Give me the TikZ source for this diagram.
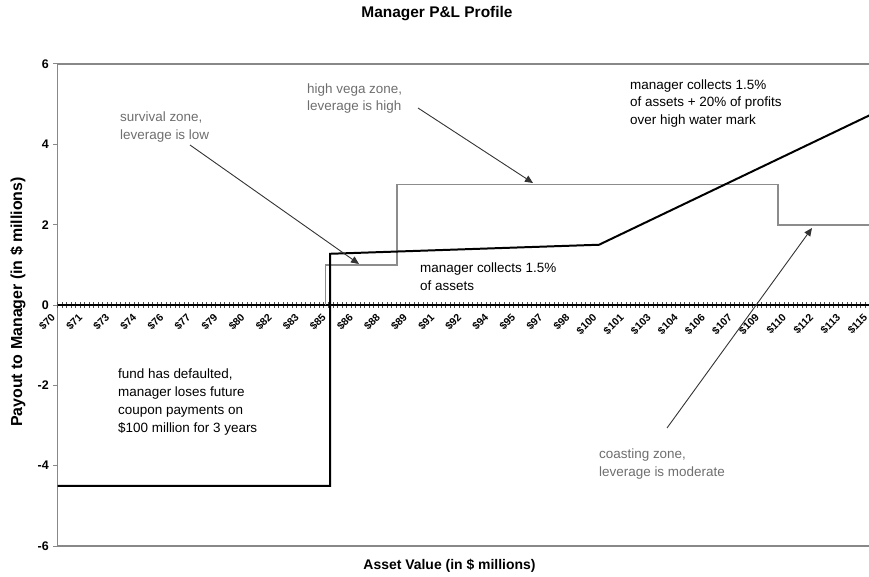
\documentclass[tikz,border=0pt]{standalone}
\usepackage{fontspec}
\setmainfont{Liberation Sans}
\usetikzlibrary{arrows.meta,positioning}

\definecolor{zonegray}{HTML}{6E6E6E}
\definecolor{linegray}{HTML}{8C8C8C}
\definecolor{framegray}{HTML}{888888}

\tikzset{
  note/.style={align=left, inner sep=0pt, anchor=west, font=\fontsize{13.5}{18}\selectfont},
  zonenote/.style={note, text=zonegray},
  pointer/.style={draw=black!80, line width=0.9pt, -{Triangle[length=8bp,width=7bp]}},
  frame/.style={draw=framegray, line width=1.3pt},
  xlab/.style={rotate=45, anchor=east, inner sep=0pt, font=\bfseries\fontsize{10.5}{12}\selectfont},
  ylab/.style={anchor=east, inner sep=0pt, font=\bfseries\fontsize{12.5}{14}\selectfont},
  axistitle/.style={font=\bfseries\fontsize{14}{16}\selectfont, inner sep=0pt},
}

\begin{document}
\begin{tikzpicture}[x=1bp, y=-1bp]
  \useasboundingbox (0,0) rectangle (869,577);

  % plot frame and value axis
  \draw[frame] (869,64) -- (57.5,64) -- (57.5,546) -- (869,546);
  \foreach \v in {6,4,...,-6} {
    \draw[frame, line width=1pt] (53,{305-40.17*\v}) -- (57.5,{305-40.17*\v});
    \node[ylab] (y\v) at (49,{305-40.17*\v}) {\v};
  }

  % category axis at zero
  \foreach \i in {0,...,180}
    \draw[black!70, line width=0.5pt] ({57.5+4.5125*\i},302) -- ++(0,6);
  \draw[black, line width=1.3pt] (57.5,305) -- (869,305);
  \foreach \k in {0,...,30} {
    \pgfmathtruncatemacro\usd{70+1.5*\k}
    \node[xlab] (x\k) at ({53.5+27.075*\k},316) {\$\usd};
  }

  % payout curves, in $ and $ millions
  \begin{scope}[xshift=-1206bp, yshift=-305bp, x=18.05bp, y=40.17bp]
    \draw[linegray, line width=1.8pt] (84.85,0) -- (84.85,1) -- (88.8,1)
      -- (88.8,3) -- (109.9,3) -- (109.9,2) -- (115,2);
    \draw[black, line width=2pt] (70,-4.5) -- (85.1,-4.5) -- (85.1,1.275)
      -- (100,1.5) -- (115,4.725);
  \end{scope}

  % titles
  \node[axistitle, font=\bfseries\fontsize{15.5}{17}\selectfont] (title) at (437,14) {Manager P\&L Profile};
  \node[axistitle] (xtitle) at (449.5,566) {Asset Value (in \$ millions)};
  \node[axistitle, rotate=90, font=\bfseries\fontsize{16}{18}\selectfont] (ytitle) at (18,302) {Payout to Manager (in \$ millions)};

  % notes
  \node[zonenote] (survival) at (120,127) {survival zone,\\leverage is low};
  \node[zonenote] (vega) at (307,98.5) {high vega zone,\\leverage is high};
  \node[note] (fee) at (630,103.5) {manager collects 1.5\%\\of assets + 20\% of profits\\over high water mark};
  \node[note] (base) at (420,276.5) {manager collects 1.5\%\\of assets};
  \node[note] (default) at (118,402) {fund has defaulted,\\manager loses future\\coupon payments on\\\$100 million for 3 years};
  \node[zonenote] (coasting) at (599,464) {coasting zone,\\leverage is moderate};

  \coordinate (survival tail) at (190,145);
  \coordinate (survival tip) at (359,264);
  \coordinate (vega tail) at (418,108);
  \coordinate (vega tip) at (533,183);
  \coordinate (coasting tail) at (667,428);
  \coordinate (coasting tip) at (812,228);
  \draw[pointer] (survival tail) -- (survival tip);
  \draw[pointer] (vega tail) -- (vega tip);
  \draw[pointer] (coasting tail) -- (coasting tip);
\end{tikzpicture}
\end{document}
